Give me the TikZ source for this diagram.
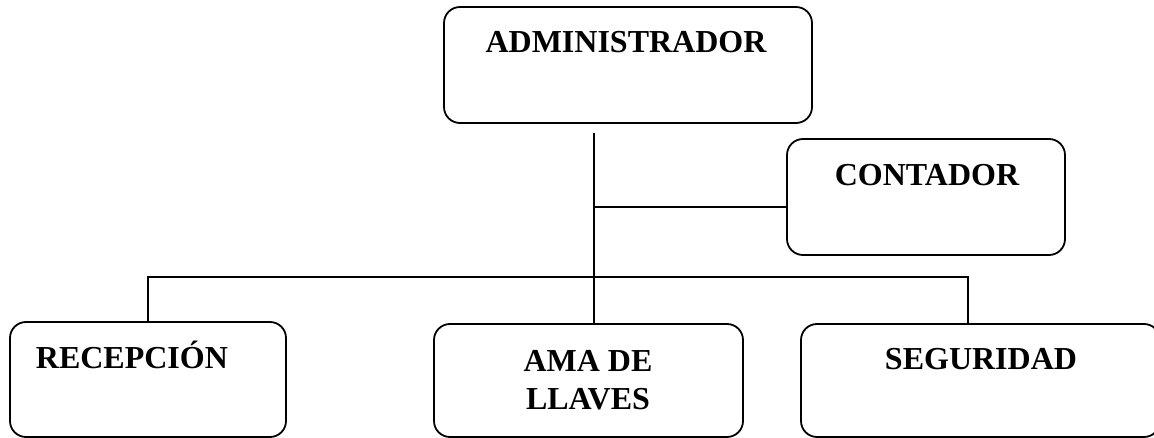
\documentclass[tikz,border=0pt]{standalone}
\usepackage{fontspec}
\setmainfont{Liberation Serif}
\begin{document}
\begin{tikzpicture}[x=1pt,y=-1pt,line width=1.8pt,
	caja/.style={draw,rounded corners=16pt,inner sep=0pt},
	txt/.style={font=\bfseries\fontsize{32}{38}\selectfont,inner sep=0pt,anchor=base}]
	\useasboundingbox (0,0) rectangle (1154,438);
	% cajas
	\node[caja,minimum width=368pt,minimum height=116pt] (adm) at (628,65) {};
	\node[caja,minimum width=278pt,minimum height=116pt] (cont) at (926,197) {};
	\node[caja,minimum width=276pt,minimum height=115pt] (rec) at (148,379.5) {};
	\node[caja,minimum width=309pt,minimum height=113pt] (ama) at (588.5,380.5) {};
	\node[caja,minimum width=359pt,minimum height=113pt] (seg) at (980.5,380.5) {};
	% textos
	\node[txt] (tadm) at (626,53) {ADMINISTRADOR};
	\node[txt] (tcont) at (927,186) {CONTADOR};
	\node[txt,anchor=base west] (trec) at (35,368) {RECEPCIÓN};
	\node[txt,anchor=north,align=center] (tama) at (588,349) {AMA DE\\LLAVES};
	\node[txt] (tseg) at (981,370) {SEGURIDAD};
	% lineas
	\coordinate (arr) at (594,133);
	\coordinate (med) at (594,207);
	\coordinate (izq) at (148,277);
	\coordinate (der) at (968,277);
	\draw (arr)--(arr |- ama.north);
	\draw (med)--(med -| cont.west);
	\draw (izq |- rec.north)--(izq)--(der)--(der |- seg.north);
\end{tikzpicture}
\end{document}
